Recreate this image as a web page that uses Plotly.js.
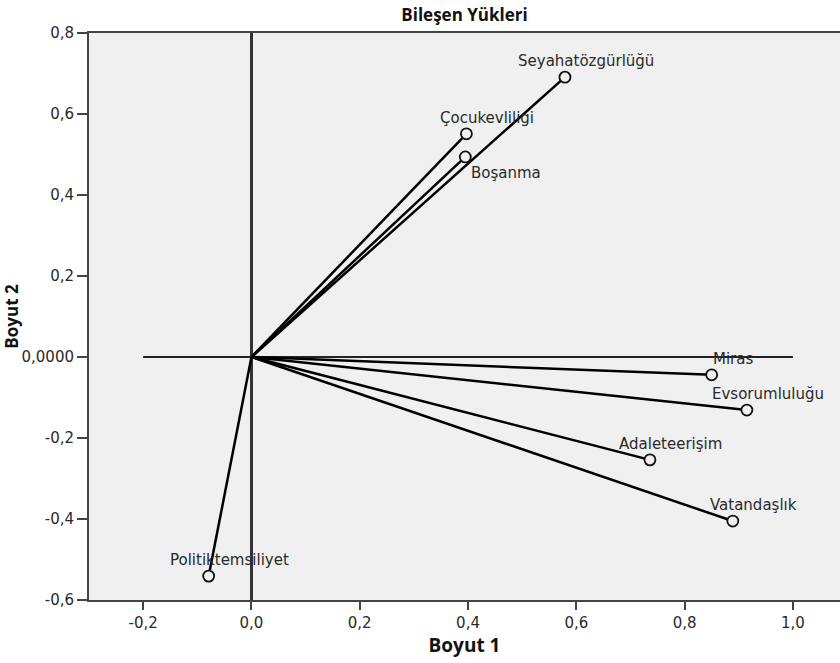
<!DOCTYPE html>
<html>
<head>
<meta charset="utf-8">
<script src="https://cdn.plot.ly/plotly-3.0.1.min.js"></script>
<style>
  html, body { margin: 0; padding: 0; background: #ffffff; }
  #chart { width: 840px; height: 663px; }
</style>
</head>
<body>
<div id="chart"></div>
<script>
// Component loadings (Boyut 1, Boyut 2)
const variables = ["Seyahatözgürlüğü", "Çocukevliligi", "Boşanma", "Miras", "Evsorumluluğu", "Adaleteerişim", "Vatandaşlık", "Politiktemsiliyet"];
const boyut1 = [0.579, 0.397, 0.395, 0.850, 0.915, 0.736, 0.889, -0.079];
const boyut2 = [0.691, 0.551, 0.494, -0.044, -0.131, -0.254, -0.405, -0.541];

const xTickVals = [-0.2, 0.0, 0.2, 0.4, 0.6, 0.8, 1.0];
const xTickText = ["-0,2", "0,0", "0,2", "0,4", "0,6", "0,8", "1,0"];
const yTickVals = [-0.6, -0.4, -0.2, 0.0, 0.2, 0.4, 0.6, 0.8];
const yTickText = ["-0,6", "-0,4", "-0,2", "0,0000", "0,2", "0,4", "0,6", "0,8"];

const refLineX = [-0.2, 1.0];   // horizontal reference line extent at Boyut 2 = 0

const traces = [];
variables.forEach((v, i) => {
  traces.push({
    type: "scatter", mode: "lines",
    x: [0, boyut1[i]], y: [0, boyut2[i]],
    line: { color: "#000000", width: 2.5 },
    hoverinfo: "skip", showlegend: false
  });
});
traces.push({
  type: "scatter", mode: "markers",
  x: boyut1, y: boyut2, text: variables,
  marker: { symbol: "circle", size: 11, color: "#f0f0f0", line: { color: "#111111", width: 1.8 } },
  hovertemplate: "%{text}<br>%{x:.3f}, %{y:.3f}<extra></extra>",
  showlegend: false
});

const annotations = variables.map((v, i) => {
  const below = v === "Boşanma";
  return {
    x: boyut1[i], y: boyut2[i], xref: "x", yref: "y",
    text: v, showarrow: false,
    xanchor: below ? "left" : "center", yanchor: "middle",
    xshift: below ? 4 : 21, yshift: below ? -16 : 16,
    font: { family: "DejaVu Sans, Arial, sans-serif", size: 15, color: "#2a2a2a" }
  };
});

const layout = {
  width: 840, height: 663,
  margin: { l: 89, r: 0, t: 33, b: 63 },
  paper_bgcolor: "#ffffff",
  plot_bgcolor: "#f0f0f0",
  title: {
    text: "<b>Bileşen Yükleri</b>",
    x: 0.5, xref: "paper", y: 0.977, yanchor: "middle",
    font: { family: "Open Sans, sans-serif", size: 17, color: "#111111" }
  },
  xaxis: {
    range: [-0.3, 1.087],
    tickvals: xTickVals, ticktext: xTickText,
    ticks: "outside", ticklen: 8, tickwidth: 2, tickcolor: "#444444",
    showline: true, linecolor: "#444444", linewidth: 2, mirror: true,
    showgrid: false,
    zeroline: true, zerolinecolor: "#333333", zerolinewidth: 2.5,
    tickfont: { family: "DejaVu Sans, Arial, sans-serif", size: 15, color: "#2a2a2a" },
    title: { text: "<b>Boyut 1</b>", standoff: 8,
      font: { family: "Open Sans, sans-serif", size: 19, color: "#111111" } }
  },
  yaxis: {
    range: [-0.6, 0.8],
    tickvals: yTickVals, ticktext: yTickText,
    ticks: "outside", ticklen: 10, tickwidth: 2, tickcolor: "#444444",
    showline: true, linecolor: "#444444", linewidth: 2, mirror: true,
    showgrid: false, zeroline: false,
    tickfont: { family: "DejaVu Sans, Arial, sans-serif", size: 15, color: "#2a2a2a" },
    title: { text: "<b>Boyut 2</b>", standoff: 2,
      font: { family: "Open Sans, sans-serif", size: 17, color: "#111111" } }
  },
  shapes: [{
    type: "line", xref: "x", yref: "y",
    x0: refLineX[0], x1: refLineX[1], y0: 0, y1: 0,
    line: { color: "#222222", width: 1.8 }, layer: "below"
  }],
  annotations: annotations
};

Plotly.newPlot("chart", traces, layout, { displayModeBar: false, staticPlot: true });
</script>
</body>
</html>
